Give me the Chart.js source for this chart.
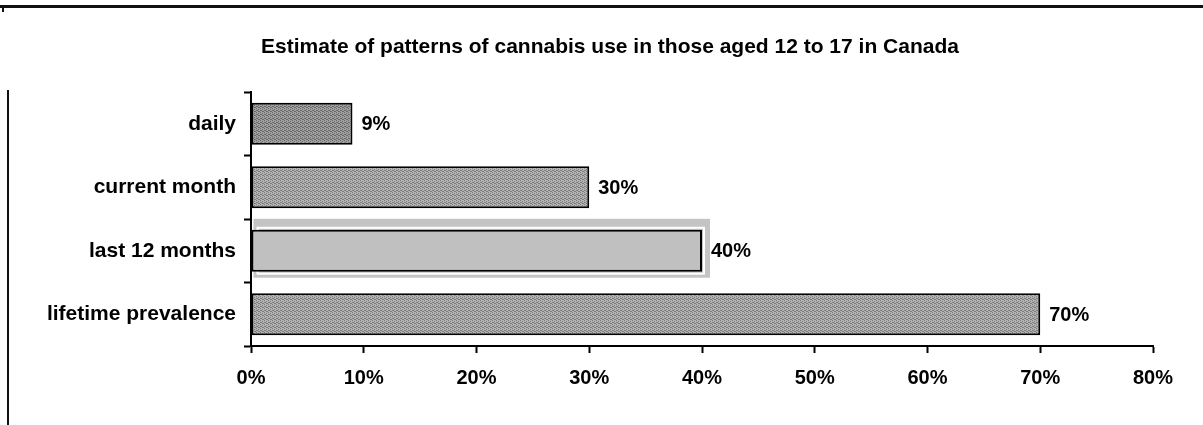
<!DOCTYPE html>
<html>
<head>
<meta charset="utf-8">
<script src="https://cdn.jsdelivr.net/npm/chart.js@4/dist/chart.umd.min.js"></script>
<style>
  html, body { margin: 0; padding: 0; background: #ffffff; }
  #wrap { position: relative; width: 1203px; height: 425px; }
</style>
</head>
<body>
<div id="wrap"><canvas id="chart"></canvas></div>
<script>
var categories = ['daily', 'current month', 'last 12 months', 'lifetime prevalence'];
var values = [9, 30, 40, 70];
var axisMax = 80;
var axisStep = 10;
var titleText = 'Estimate of patterns of cannabis use in those aged 12 to 17 in Canada';
var selectedIndex = 2;

var FONT = '"Liberation Sans", Arial, sans-serif';

// halftone-ish fill, like the scanned original
function makePattern(light, dark) {
  var c = document.createElement('canvas');
  c.width = 4;
  c.height = 4;
  var g = c.getContext('2d');
  g.fillStyle = light;
  g.fillRect(0, 0, 4, 4);
  g.fillStyle = dark;
  var dots = [[0, 0], [2, 1], [1, 2], [3, 3], [2, 3], [0, 2]];
  dots.forEach(function (d) { g.fillRect(d[0], d[1], 1, 1); });
  return g.createPattern(c, 'repeat');
}

var ctx0 = document.getElementById('chart').getContext('2d');
var fills = [
  makePattern('#a0a0a0', '#6a6a6a'),
  makePattern('#b4b4b4', '#7c7c7c'),
  '#c0c0c0',
  makePattern('#b4b4b4', '#7c7c7c')
];

// page frame (top rule and left rule of the scan) and the title
var framePlugin = {
  id: 'frame',
  afterDraw: function (chart) {
    var c = chart.ctx;
    c.save();
    c.fillStyle = '#111';
    c.fillRect(0, 5, chart.width, 3);
    c.fillRect(2, 8, 2, 4);
    c.fillRect(7, 90, 2, chart.height - 90);
    c.font = 'bold 21px ' + FONT;
    c.fillStyle = '#000';
    c.textAlign = 'center';
    c.textBaseline = 'middle';
    c.fillText(titleText, 610, 47);
    c.restore();
  }
};

// light halo behind the selected bar
var selectPlugin = {
  id: 'selectHalo',
  beforeDatasetsDraw: function (chart) {
    var bar = chart.getDatasetMeta(0).data[selectedIndex];
    if (!bar) return;
    var h = bar.height;
    var c = chart.ctx;
    c.save();
    c.fillStyle = '#c4c4c4';
    c.fillRect(bar.base + 2, bar.y - h / 2 - 11, bar.x - bar.base + 6, h + 17);
    c.strokeStyle = '#ffffff';
    c.lineWidth = 2;
    c.strokeRect(bar.base + 6, bar.y - h / 2 - 2, bar.x - bar.base - 4, h + 4);
    c.restore();
  }
};

var valueLabels = {
  id: 'valueLabels',
  afterDatasetsDraw: function (chart) {
    var c = chart.ctx;
    var meta = chart.getDatasetMeta(0);
    c.save();
    c.font = 'bold 20px ' + FONT;
    c.fillStyle = '#000';
    c.textAlign = 'left';
    c.textBaseline = 'middle';
    meta.data.forEach(function (bar, i) {
      c.fillText(values[i] + '%', bar.x + 9, bar.y + 1);
    });
    c.restore();
  }
};

new Chart(ctx0, {
  type: 'bar',
  data: {
    labels: categories,
    datasets: [{
      data: values,
      backgroundColor: fills,
      borderColor: '#000',
      borderWidth: 2,
      borderSkipped: false,
      barPercentage: 0.66,
      categoryPercentage: 1.0
    }]
  },
  options: {
    indexAxis: 'y',
    responsive: true,
    maintainAspectRatio: false,
    animation: false,
    layout: { padding: { left: 0, right: 50, top: 92, bottom: 0 } },
    plugins: {
      legend: { display: false },
      tooltip: { enabled: false },
      title: { display: false }
    },
    scales: {
      x: {
        min: 0,
        max: axisMax,
        ticks: {
          stepSize: axisStep,
          color: '#000',
          padding: 13,
          font: { family: FONT, size: 20, weight: 'bold' },
          callback: function (v) { return v + '%'; }
        },
        grid: {
          drawOnChartArea: false,
          drawTicks: true,
          tickLength: 7,
          tickWidth: 2,
          tickColor: '#000'
        },
        border: { color: '#000', width: 2 },
        afterFit: function (s) { s.height = 79; }
      },
      y: {
        ticks: {
          color: '#000',
          padding: 8,
          font: { family: FONT, size: 21, weight: 'bold' }
        },
        grid: {
          drawOnChartArea: false,
          drawTicks: true,
          tickLength: 7,
          tickWidth: 2,
          tickColor: '#000'
        },
        border: { color: '#000', width: 2 },
        afterFit: function (s) { s.width = 251; }
      }
    }
  },
  plugins: [selectPlugin, valueLabels, framePlugin]
});
</script>
</body>
</html>
